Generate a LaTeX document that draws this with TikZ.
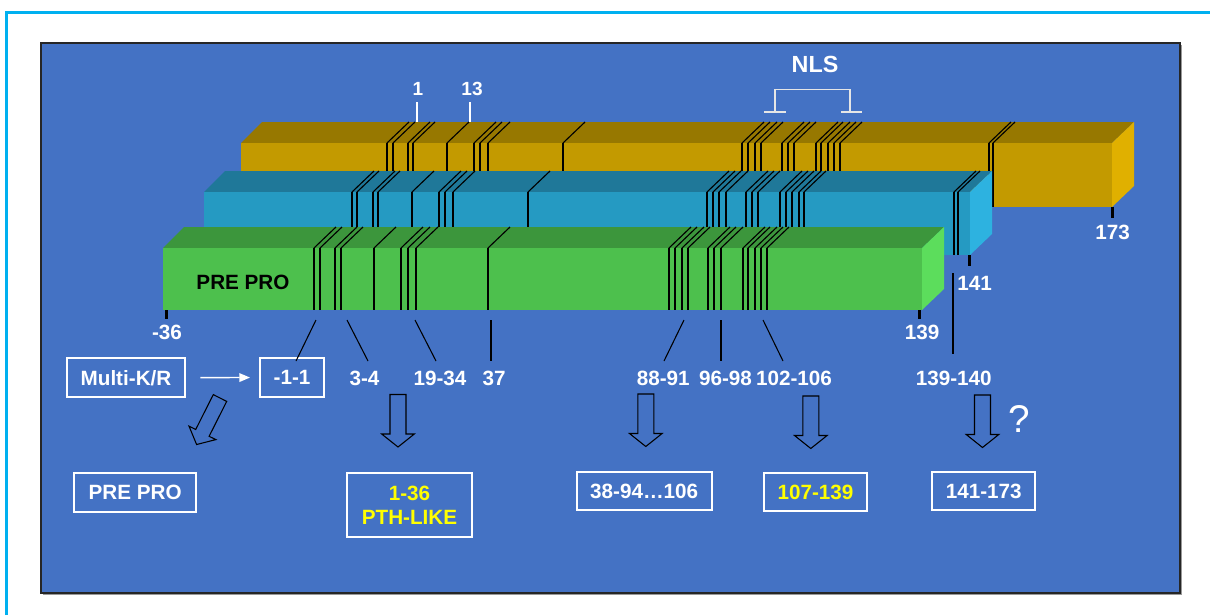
\documentclass[tikz,border=0pt]{standalone}
\usepackage{fontspec}
\setmainfont{Liberation Sans}
\usetikzlibrary{arrows.meta}
\definecolor{panel}{HTML}{4472C4}
\definecolor{frame}{HTML}{00B0F0}
\definecolor{otop}{HTML}{977800}
\definecolor{ofront}{HTML}{C39A00}
\definecolor{oside}{HTML}{E0B000}
\definecolor{btop}{HTML}{1F7899}
\definecolor{bfront}{HTML}{259AC2}
\definecolor{bside}{HTML}{2DB2E0}
\definecolor{gtop}{HTML}{3C963C}
\definecolor{gfront}{HTML}{4DC04D}
\definecolor{gside}{HTML}{5CDD5C}
\definecolor{nlsgray}{HTML}{E6E6E6}
\definecolor{hiyellow}{HTML}{FFFF00}
\newcommand\prism[5]{%
  \fill[#5top] (#1,#2) -- (#1+21,#2-21) -- (#3+22,#2-21) -- (#3,#2) -- cycle;
  \fill[#5front] (#1,#2) rectangle (#3,#4);
  \fill[#5side] (#3,#2) -- (#3+22,#2-21) -- (#3+22,#4-21) -- (#3,#4) -- cycle;
}
\newcommand\blockdown[2]{%
  \draw[blockarrow] (#1-8,#2) -- (#1+8,#2) -- (#1+8,#2+39.5) -- (#1+16.3,#2+39.5)
    -- (#1,#2+52.5) -- (#1-16.3,#2+39.5) -- (#1-8,#2+39.5) -- cycle;
}
\begin{document}
\begin{tikzpicture}[x=0.75pt,y=-0.75pt,
  stripeV/.style={black, line width=1.15pt},
  stripeD/.style={black, line width=0.85pt},
  conn/.style={black, line width=0.8pt},
  tick/.style={black, line width=2.25pt},
  lbl/.style={text=white, font=\fontsize{15.5}{18}\selectfont\bfseries, inner sep=0pt, text height=11.1pt, text depth=0pt},
  toplbl/.style={text=white, font=\fontsize{14.3}{17}\selectfont\bfseries, inner sep=0pt, text height=10.2pt, text depth=0pt},
  wbox/.style={draw=white, line width=1.4pt, inner sep=0pt},
  blockarrow/.style={draw=black, line width=0.8pt},
]
\useasboundingbox (0,0) rectangle (1210,615);
\fill[white] (0,0) rectangle (1210,615);
% outer frame
\draw[frame, line width=1.9pt] (6.5,615) -- (6.5,12.5) -- (1210,12.5);
% panel
\fill[black!40] (43,45) rectangle (1182,595);
\filldraw[fill=panel, draw=black!85, line width=0.8pt] (41,43) rectangle (1180,593);

% orange prism
\prism{241}{143}{1112}{207}{o}
\foreach \x in {387,393,408,413,447,474,480,488,563,742,748,755,761,782,788,794,816,821,828,834,840,989,993}
  {\draw[stripeV] (\x,143) -- (\x,207); \draw[stripeD] (\x,143) -- (\x+22,122);}
% blue prism
\prism{204}{192}{970}{255}{b}
\foreach \x in {352,357,373,378,412,439,445,453,528,707,713,719,726,746,752,758,780,786,792,799,804,954,958}
  {\draw[stripeV] (\x,192) -- (\x,255); \draw[stripeD] (\x,192) -- (\x+22,171);}
% green prism
\prism{163}{248}{922}{310}{g}
\foreach \x in {314,320,335,341,374,401,408,416,488,669,675,682,688,708,714,721,743,748,755,761,767}
  {\draw[stripeV] (\x,248) -- (\x,310); \draw[stripeD] (\x,248) -- (\x+22,227);}

\node[lbl, text=black] (prepro) at (243,282) {PRE PRO};

% ticks and end labels
\draw[tick] (166,310) -- (166,319);
\draw[tick] (919,310) -- (919,319);
\draw[tick] (969,255) -- (969,265.5);
\draw[tick] (1112,207) -- (1112,217.5);
\node[lbl] (lm36) at (167,332) {-36};
\node[lbl] (l139) at (922,332.5) {139};
\node[lbl] (l141) at (974.5,283.5) {141};
\node[lbl] (l173) at (1112.5,232.5) {173};

% top labels
\node[toplbl] (l1) at (418,89) {1};
\node[toplbl] (l13) at (472,89) {13};
\coordinate (t1a) at (417,102); \coordinate (t1b) at (417,122);
\coordinate (t13a) at (470,102); \coordinate (t13b) at (470,122);
\draw[white, line width=0.8pt] (t1a) -- (t1b);
\draw[white, line width=0.8pt] (t13a) -- (t13b);
\node[text=white, font=\fontsize{17.5}{20}\selectfont\bfseries, inner sep=0pt, text height=12.5pt, text depth=0pt] (nls) at (815,64) {NLS};
\coordinate (nlsL) at (775,111); \coordinate (nlsR) at (850,111);
\draw[nlsgray, line width=1pt] (nlsL) -- (775,89.3) -- (850,89.3) -- (nlsR);
\draw[nlsgray, line width=2pt] (764,112) -- (786,112);
\draw[nlsgray, line width=2pt] (841,112) -- (862,112);

% row labels
\node[lbl, wbox, minimum width=88.7pt, minimum height=29pt] (mkr) at (126,377.7) {Multi-K/R};
\node[lbl, wbox, minimum width=48pt, minimum height=29.2pt] (m11) at (292,377.5) {-1-1};
\node[lbl] (l34) at (364.5,378) {3-4};
\node[lbl] (l1934) at (440,378) {19-34};
\node[lbl] (l37) at (494,378) {37};
\node[lbl] (l8891) at (663.3,378) {88-91};
\node[lbl] (l9698) at (725.5,378) {96-98};
\node[lbl] (l102) at (794,378) {102-106};
\node[lbl] (l139140) at (953.7,378) {139-140};

\draw[white, line width=1pt, shorten <=10.7pt, shorten >=6.8pt, -{Triangle[length=8pt,width=6.5pt]}] (mkr) -- (m11);

% connectors from stripes
\coordinate (s1) at (316,320); \coordinate (e1) at (296,361);
\coordinate (s2) at (347,320); \coordinate (e2) at (368,361);
\coordinate (s3) at (415,320); \coordinate (e3) at (436,361);
\coordinate (s4) at (491,320); \coordinate (e4) at (491,361);
\coordinate (s5) at (684,320); \coordinate (e5) at (664,361);
\coordinate (s6) at (721,320); \coordinate (e6) at (721,361);
\coordinate (s7) at (763,320); \coordinate (e7) at (783,361);
\coordinate (s8) at (953,273); \coordinate (e8) at (953,354);
\foreach \i in {1,...,8} \draw[conn] (s\i) -- (e\i);

% block arrows
\draw[blockarrow] (213.3,394.6) -- (226.7,401.4) -- (209.1,436.3) -- (215.9,439.6)
  -- (196.6,444.5) -- (189.0,426.1) -- (195.7,429.5) -- cycle;
\blockdown{398}{394.5}
\blockdown{645.8}{394}
\blockdown{810.8}{396}
\blockdown{982.5}{395}
\node[text=white, font=\fontsize{29}{31}\selectfont, inner sep=0pt] (q) at (1019.4,419) {?};

% result boxes
\node[lbl, wbox, minimum width=91.3pt, minimum height=29.7pt] (bpre) at (135.2,492.5) {PRE PRO};
\node[lbl, wbox, text=hiyellow, minimum width=93.3pt, minimum height=48.5pt, align=center, text height=, text depth=] (bpth) at (409.5,505) {\fontsize{15.5}{17.5}\selectfont\bfseries 1-36\\PTH-LIKE};
\node[lbl, wbox, minimum width=101.25pt, minimum height=28.7pt] (b38) at (644.2,490.8) {38-94…106};
\node[lbl, wbox, text=hiyellow, minimum width=76.75pt, minimum height=28.7pt] (b107) at (815.5,491.8) {107-139};
\node[lbl, wbox, minimum width=77.2pt, minimum height=28.7pt] (b141) at (983.7,491.2) {141-173};
\end{tikzpicture}
\end{document}
